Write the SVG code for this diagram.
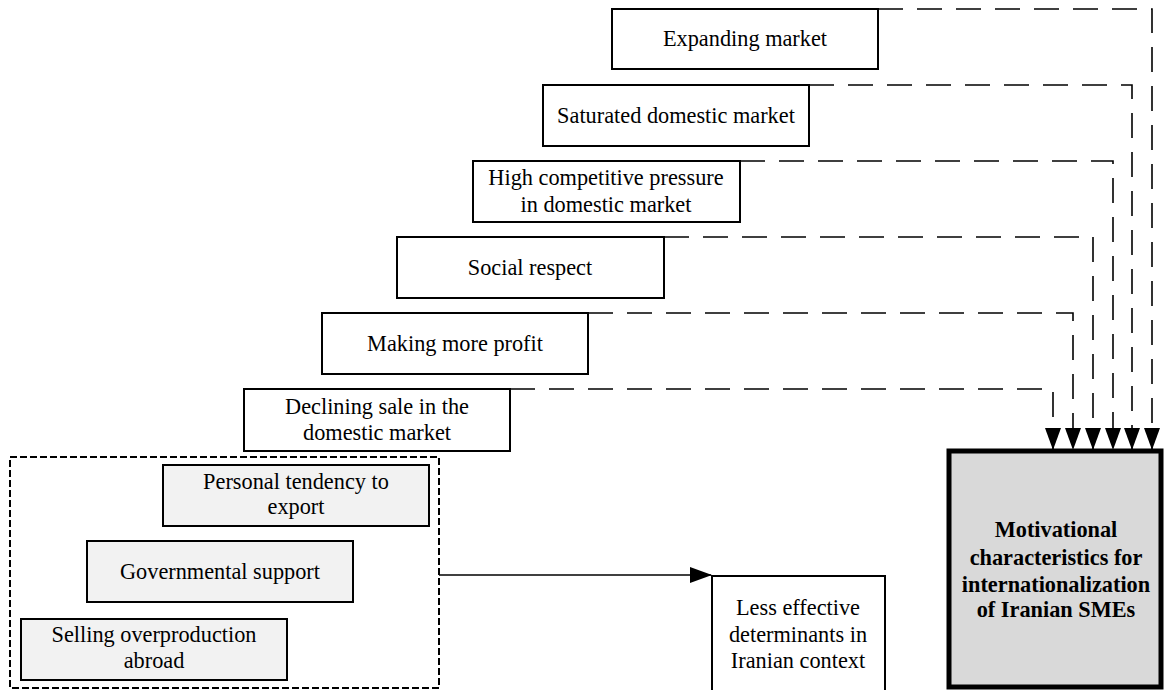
<svg xmlns="http://www.w3.org/2000/svg" width="1167" height="690" viewBox="0 0 1167 690">
  <style>
    .box { fill: #ffffff; stroke: #000000; stroke-width: 2; }
    .soft { fill: #f2f2f2; stroke: #000000; stroke-width: 2; }
    .main { fill: #d9d9d9; stroke: #000000; stroke-width: 5; }
    .lbl { font-family: "Liberation Serif", "Times New Roman", serif; font-size: 22.3px; fill: #000000; text-anchor: middle; }
    .bold { font-weight: bold; }
    .dash { fill: none; stroke: #000000; stroke-width: 1.6; stroke-dasharray: 25 14; }
    .solid { fill: none; stroke: #000000; stroke-width: 1.6; }
    .group { fill: none; stroke: #000000; stroke-width: 2; stroke-dasharray: 7 3; }
  </style>
  <defs>
    <marker id="head" markerUnits="userSpaceOnUse" markerWidth="22" markerHeight="16" viewBox="0 0 22 16" refX="21" refY="8" orient="auto">
      <path d="M0,0 L22,8 L0,16 Z" fill="#000000"/>
    </marker>
  </defs>

  <!-- dashed group enclosing the less effective factors -->
  <rect id="less-effective-group" class="group" x="10" y="457" width="429" height="231"/>

  <!-- connectors -->
  <g id="connectors">
    <path class="dash" d="M878,9 H1152 V449" marker-end="url(#head)"/>
    <path class="dash" d="M809,85 H1132 V449" marker-end="url(#head)"/>
    <path class="dash" d="M740,161 H1113 V449" marker-end="url(#head)"/>
    <path class="dash" d="M664,237 H1093 V449" marker-end="url(#head)"/>
    <path class="dash" d="M588,313 H1073 V449" marker-end="url(#head)"/>
    <path class="dash" d="M510,389 H1053 V449" marker-end="url(#head)"/>
    <path class="solid" d="M439,575 H711" marker-end="url(#head)"/>
  </g>

  <g id="expanding-market">
    <rect class="box" x="612" y="9" width="266" height="60"/>
    <text class="lbl" x="745" y="46">Expanding market</text>
  </g>
  <g id="saturated-domestic-market">
    <rect class="box" x="543" y="85" width="266" height="61"/>
    <text class="lbl" x="676" y="123">Saturated domestic market</text>
  </g>
  <g id="high-competitive-pressure">
    <rect class="box" x="473" y="161" width="267" height="61"/>
    <text class="lbl" x="606" y="185">High competitive pressure</text>
    <text class="lbl" x="606" y="212">in domestic market</text>
  </g>
  <g id="social-respect">
    <rect class="box" x="397" y="237" width="267" height="61"/>
    <text class="lbl" x="530" y="275">Social respect</text>
  </g>
  <g id="making-more-profit">
    <rect class="box" x="322" y="313" width="266" height="61"/>
    <text class="lbl" x="455" y="351">Making more profit</text>
  </g>
  <g id="declining-sale">
    <rect class="box" x="244" y="389" width="266" height="62"/>
    <text class="lbl" x="377" y="414">Declining sale in the</text>
    <text class="lbl" x="377" y="440">domestic market</text>
  </g>
  <g id="personal-tendency">
    <rect class="soft" x="163" y="465" width="266" height="61"/>
    <text class="lbl" x="296" y="489">Personal tendency to</text>
    <text class="lbl" x="296" y="514">export</text>
  </g>
  <g id="governmental-support">
    <rect class="soft" x="87" y="541" width="266" height="61"/>
    <text class="lbl" x="220" y="579">Governmental support</text>
  </g>
  <g id="selling-overproduction">
    <rect class="soft" x="21" y="619" width="266" height="61"/>
    <text class="lbl" x="154" y="642">Selling overproduction</text>
    <text class="lbl" x="154" y="668">abroad</text>
  </g>
  <g id="less-effective-determinants">
    <rect class="box" x="712" y="576" width="173" height="120"/>
    <text class="lbl" x="798" y="615">Less effective</text>
    <text class="lbl" x="798" y="642">determinants in</text>
    <text class="lbl" x="798" y="668">Iranian context</text>
  </g>
  <g id="motivational-characteristics">
    <rect class="main" x="949" y="451" width="212" height="236"/>
    <text class="lbl bold" x="1056" y="537">Motivational</text>
    <text class="lbl bold" x="1056" y="565">characteristics for</text>
    <text class="lbl bold" x="1056" y="592">internationalization</text>
    <text class="lbl bold" x="1056" y="617">of Iranian SMEs</text>
  </g>
</svg>
